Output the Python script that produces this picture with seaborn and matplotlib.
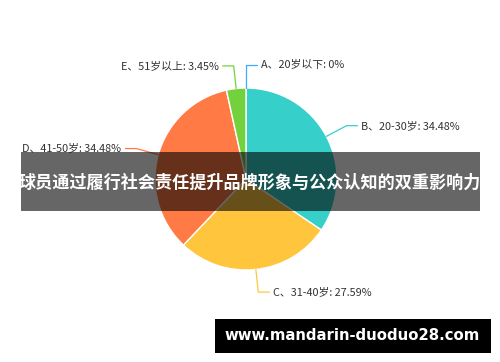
import numpy as np
import matplotlib
matplotlib.use("Agg")
import matplotlib.pyplot as plt
from matplotlib.patches import Rectangle
import seaborn as sns

categories = ["A、20岁以下", "B、20-30岁", "C、31-40岁", "D、41-50岁", "E、51岁以上"]
values = [0, 34.48, 27.59, 34.48, 3.45]
colors = ["#40a9ff", "#36cfc9", "#ffc53d", "#ff7a45", "#73d13d"]
title = "球员通过履行社会责任提升品牌形象与公众认知的双重影响力"
watermark = "www.mandarin-duoduo28.com"

sns.set_theme(style="white")
plt.rcParams['font.family'] = ['Noto Sans CJK SC', 'DejaVu Sans']

W, H = 500, 362
fig = plt.figure(figsize=(W / 100, H / 100), dpi=100)
ax = fig.add_axes([0, 0, 1, 1])

cx, cy, r = 246, H - 179, 91
wedges, _ = ax.pie(values, colors=colors, startangle=90, counterclock=False,
                   center=(cx, cy), radius=r,
                   wedgeprops=dict(edgecolor="white", linewidth=1))
ax.set_xlim(0, W)
ax.set_ylim(0, H)
ax.set_aspect("equal")
ax.axis("off")

for w, cat, val, col in zip(wedges, categories, values, colors):
    mid = np.deg2rad((w.theta1 + w.theta2) / 2)
    dx, dy = np.cos(mid), np.sin(mid)
    p1 = (cx + r * dx, cy + r * dy)
    p2 = (cx + 1.25 * r * dx, cy + 1.25 * r * dy)
    side = 1 if dx >= -0.01 else -1
    p3 = (p2[0] + side * 11, p2[1])
    ax.plot([p1[0], p2[0], p3[0]], [p1[1], p2[1], p3[1]], color=col, lw=0.9,
            solid_capstyle="round", zorder=1)
    ax.text(p3[0] + side * 4, p3[1], f"{cat}: {val:g}%", fontsize=7.8, color="#333333",
            ha="left" if side > 0 else "right", va="center")

ax.add_patch(Rectangle((21, H - 211), 459, 59, facecolor="black", alpha=0.6,
                       edgecolor="none", zorder=5))
ax.text(250, H - 183, title, fontsize=12.3, fontweight="bold", color="white",
        ha="center", va="center", zorder=6)

ax.add_patch(Rectangle((215, H - 353), 276, 34, facecolor="black",
                       edgecolor="none", zorder=5))
ax.text(352, H - 336, watermark, fontsize=10.7, fontweight="bold", color="white",
        family="DejaVu Sans", ha="center", va="center", zorder=6)

fig.savefig("out.png", dpi=100)
